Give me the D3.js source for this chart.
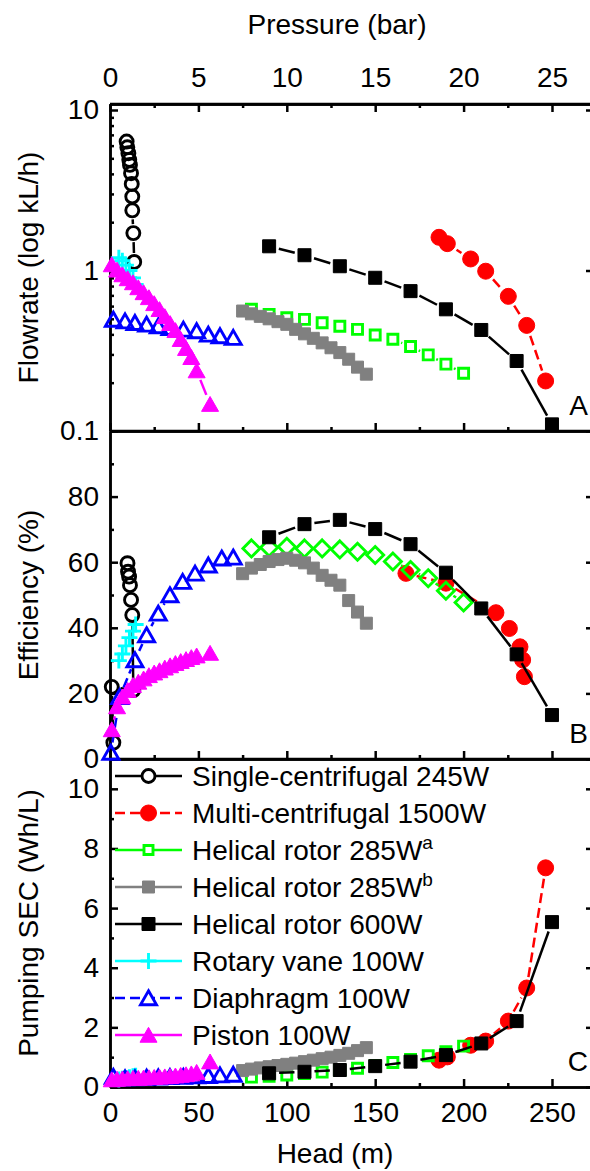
<!DOCTYPE html>
<html>
<head>
<meta charset="utf-8">
<script src="https://cdn.jsdelivr.net/npm/d3@7"></script>
<style>
  body { margin: 0; background: #fff; }
  text { font-family: "Liberation Sans", Arial, sans-serif; fill: #000; }
  .tick text { font-size: 28px; }
  .domain, .tick line { stroke: #000; stroke-width: 2.5; }
</style>
</head>
<body>
<div id="container"></div>
<script>
// ---- data ----
// Single-centrifugal 245W
const singleHead = [9.4, 9.8, 10.4, 10.9, 11.3, 11.9, 12.3, 12.6, 12.6, 13.2, 13.7];
const singleFlow = [6.36, 5.86, 5.38, 4.89, 4.55, 4.04, 3.46, 2.89, 2.37, 1.71, 1.13];
const singleEffHead = [9.9, 10.2, 10.8, 11.3, 11.9, 12.6, 13.2, 1.0, 1.9];
const singleEff = [59.7, 57.1, 55.6, 53.0, 48.5, 43.9, 21.0, 22.0, 5.0];

// Multi-centrifugal 1500W
const multiHead = [186.1, 190.8, 204.0, 212.5, 225.3, 235.7, 246.4];
const multiFlow = [1.61, 1.47, 1.18, 0.99, 0.69, 0.455, 0.205];
const multiSec = [0.90, 1.01, 1.40, 1.54, 2.21, 3.32, 7.35];
const multiEffHead = [167.4, 190.0, 218.3, 225.9, 231.9, 233.4, 234.4];
const multiEff = [56.6, 53.6, 44.6, 39.8, 34.2, 30.2, 25.1];

// Helical rotor 285W (a)
const helAHead = [80, 90, 100, 110, 120, 130, 140, 150, 160, 170, 180, 190, 200];
const helAFlow = [0.573, 0.533, 0.508, 0.496, 0.473, 0.449, 0.430, 0.396, 0.373, 0.336, 0.298, 0.261, 0.229];
const helAEff = [64.2, 64.5, 64.7, 64.2, 64.2, 63.9, 63.2, 62.2, 60.2, 57.6, 55.1, 51.3, 47.7];
const helASec = [0.33, 0.36, 0.40, 0.45, 0.50, 0.56, 0.63, 0.72, 0.82, 0.92, 1.05, 1.18, 1.37];

// Helical rotor 285W (b)
const helBHead = [75, 80, 85, 90, 95, 100, 105, 110, 115, 120, 125, 130, 135, 140, 145];
const helBFlow = [0.559, 0.537, 0.518, 0.500, 0.480, 0.462, 0.430, 0.403, 0.378, 0.354, 0.330, 0.308, 0.280, 0.250, 0.226];
const helBEff = [56.5, 58.2, 59.3, 60.2, 60.8, 61.2, 60.6, 59.8, 58.2, 56.0, 54.5, 53.0, 48.3, 44.8, 41.4];
const helBSec = [0.55, 0.60, 0.64, 0.68, 0.72, 0.76, 0.80, 0.85, 0.90, 0.95, 1.00, 1.06, 1.13, 1.22, 1.32];

// Helical rotor 600W
const hel6Head = [90, 110, 130, 150, 170, 190, 210, 230, 250];
const hel6Flow = [1.415, 1.245, 1.063, 0.901, 0.744, 0.573, 0.426, 0.273, 0.110];
const hel6Eff = [67.6, 71.6, 72.9, 70.1, 65.5, 56.8, 45.9, 31.9, 13.4];
const hel6Sec = [0.46, 0.51, 0.57, 0.70, 0.85, 1.07, 1.46, 2.21, 5.53];

// Rotary vane 100W
const rotHead = [5, 7, 9, 11, 13, 14.5];
const rotFlow = [1.20, 1.15, 1.08, 1.00, 0.90, 0.82];
const rotEff = [30, 32, 34.5, 37, 39, 41];
const rotSec = [0.25, 0.28, 0.30, 0.33, 0.36, 0.38];

// Diaphragm 100W
const diaHead = [1.9, 8.5, 14.1, 20.7, 27.3, 33.9, 41.5, 49.0, 55.6, 62.2, 69.7];
const diaFlow = [0.496, 0.484, 0.473, 0.462, 0.451, 0.440, 0.430, 0.420, 0.400, 0.391, 0.382];
const diaEffHead = [0.5, 5.5, 14.1, 20.7, 27.3, 33.9, 41.1, 48.1, 55.6, 63.2, 69.7];
const diaEff = [2, 19, 30.2, 37.8, 44.4, 50.0, 54.1, 56.6, 59.1, 61.2, 61.5];
const diaSec = [0.35, 0.30, 0.30, 0.32, 0.33, 0.34, 0.35, 0.37, 0.38, 0.40, 0.42];

// Piston 100W
const pisHead = [1, 4, 7, 10, 13, 16, 19, 22, 25, 28, 31, 34, 37, 40, 43, 46, 49, 56.6];
const pisFlow = [1.09, 1.01, 0.944, 0.892, 0.842, 0.784, 0.730, 0.680, 0.624, 0.573, 0.518, 0.469, 0.424, 0.373, 0.328, 0.288, 0.238, 0.147];
const pisEff = [9, 16, 19, 21, 22.5, 23.5, 24.5, 25.5, 26.3, 27, 27.8, 28.5, 29.2, 29.8, 30.4, 31, 31.5, 32.3];
const pisSec = [0.25, 0.27, 0.28, 0.29, 0.30, 0.30, 0.31, 0.32, 0.33, 0.34, 0.35, 0.36, 0.38, 0.40, 0.42, 0.45, 0.50, 0.85];

// axis ticks
const headTicks = [0, 50, 100, 150, 200, 250];
const headMinor = [25, 75, 125, 175, 225];
const barTicks = [0, 5, 10, 15, 20, 25];
const barMinor = [2.5, 7.5, 12.5, 17.5, 22.5];
const flowTicks = [0.1, 1, 10];
const flowMinor = [0.2, 0.3, 0.4, 0.5, 0.6, 0.7, 0.8, 0.9, 2, 3, 4, 5, 6, 7, 8, 9];
const effTicks = [0, 20, 40, 60, 80];
const effMinor = [10, 30, 50, 70, 90];
const secTicks = [0, 2, 4, 6, 8, 10];
const secMinor = [1, 3, 5, 7, 9];

// ---- layout ----
const L = 110, R = 593;
const svg = d3.select('#container').append('svg')
  .attr('width', 590).attr('height', 1171);

const x = d3.scaleLinear().domain([0, 273.2]).range([L, R]);
const xBar = d3.scaleLinear().domain([0, 27.32]).range([L, R]);
const yA = d3.scaleLog().domain([0.1, 10.9]).range([431, 104]);
const yB = d3.scaleLinear().domain([0, 100]).range([759, 431]);
const yC = d3.scaleLinear().domain([0, 11]).range([1087, 759]);

function clean(sel) {
  sel.attr('font-size', null).attr('font-family', null);
}

function panel(y, major, minor, fmt, title, letter, showBottom) {
  const [bot, top] = y.range();
  const g = svg.append('g');

  g.append('g').attr('transform', `translate(${L},0)`)
    .call(d3.axisLeft(y).tickValues(major).tickFormat(fmt).tickSizeInner(-8).tickSizeOuter(0).tickPadding(11))
    .call(clean);
  g.append('g').attr('transform', `translate(${L},0)`)
    .call(d3.axisLeft(y).tickValues(minor).tickFormat('').tickSizeInner(-4).tickSizeOuter(0))
    .call(clean);
  g.append('g').attr('transform', `translate(${R},0)`)
    .call(d3.axisRight(y).tickValues(major).tickFormat('').tickSizeInner(-7).tickSizeOuter(0))
    .call(clean);

  g.append('g').attr('transform', `translate(0,${bot})`)
    .call(d3.axisBottom(x).tickValues(headTicks).tickFormat(showBottom ? d3.format('d') : '')
      .tickSizeInner(-8).tickSizeOuter(0).tickPadding(15))
    .call(clean);
  g.append('g').attr('transform', `translate(0,${bot})`)
    .call(d3.axisBottom(x).tickValues(headMinor).tickFormat('').tickSizeInner(-4).tickSizeOuter(0))
    .call(clean);

  g.append('line').attr('x1', L).attr('x2', R).attr('y1', top).attr('y2', top)
    .attr('stroke', '#000').attr('stroke-width', 2.5);

  g.append('text')
    .attr('transform', `translate(38,${(top + bot) / 2}) rotate(-90)`)
    .attr('text-anchor', 'middle').attr('font-size', 28).text(title);

  g.append('text').attr('x', 588).attr('y', bot - 16)
    .attr('text-anchor', 'end').attr('font-size', 28).text(letter);
}

panel(yA, flowTicks, flowMinor, d3.format('~g'), 'Flowrate (log kL/h)', 'A', false);
panel(yB, effTicks, effMinor, d3.format('d'), 'Efficiency (%)', 'B', false);
panel(yC, secTicks, secMinor, d3.format('d'), 'Pumping SEC (Wh/L)', 'C', true);

// pressure axis on top of panel A
svg.append('g').attr('transform', `translate(0,${yA.range()[1]})`)
  .call(d3.axisTop(xBar).tickValues(barTicks).tickFormat(d3.format('d')).tickSizeInner(-8).tickSizeOuter(0).tickPadding(17))
  .call(clean);
svg.append('g').attr('transform', `translate(0,${yA.range()[1]})`)
  .call(d3.axisTop(xBar).tickValues(barMinor).tickFormat('').tickSizeInner(-4).tickSizeOuter(0))
  .call(clean);

svg.append('text').attr('x', 337).attr('y', 34).attr('text-anchor', 'middle')
  .attr('font-size', 28).text('Pressure (bar)');
svg.append('text').attr('x', 335).attr('y', 1163).attr('text-anchor', 'middle')
  .attr('font-size', 28).text('Head (m)');

// ---- markers ----
function markerPath(shape, s) {
  switch (shape) {
    case 'circle': return `M${-s},0a${s},${s} 0 1,0 ${2 * s},0a${s},${s} 0 1,0 ${-2 * s},0Z`;
    case 'square': return `M${-s},${-s}h${2 * s}v${2 * s}h${-2 * s}Z`;
    case 'diamond': return `M0,${-s}L${s},0L0,${s}L${-s},0Z`;
    case 'triangle': return `M0,${-s * 0.9}L${s},${s * 0.85}L${-s},${s * 0.85}Z`;
    case 'plus': return `M${-s},0H${s}M0,${-s}V${s}`;
  }
}

const styles = {
  single: { color: '#000', shape: 'circle', size: 6.5, filled: false, dash: null, gap: 9 },
  multi: { color: '#ff0000', shape: 'circle', size: 8, filled: true, dash: '10,5', gap: 11 },
  helA: { color: '#00ff00', shape: 'square', size: 5, filled: false, dash: null, gap: 9 },
  helB: { color: '#808080', shape: 'square', size: 6, filled: true, dash: null, gap: 9 },
  hel6: { color: '#000', shape: 'square', size: 6.5, filled: true, dash: null, gap: 10 },
  rot: { color: '#00ffff', shape: 'plus', size: 8, filled: false, dash: null, gap: 9 },
  dia: { color: '#0000ff', shape: 'triangle', size: 8, filled: false, dash: '10,5', gap: 10 },
  pis: { color: '#ff00ff', shape: 'triangle', size: 8.5, filled: true, dash: null, gap: 10 }
};

function series(y, xs, ys, st, shape) {
  const g = svg.append('g');
  const pts = xs.map((h, i) => [x(h), y(ys[i])]);
  for (let i = 0; i < pts.length - 1; i++) {
    const [x1, y1] = pts[i], [x2, y2] = pts[i + 1];
    const d = Math.hypot(x2 - x1, y2 - y1);
    if (d <= 2 * st.gap + 1) continue;
    const ux = (x2 - x1) / d, uy = (y2 - y1) / d;
    g.append('line')
      .attr('x1', x1 + ux * st.gap).attr('y1', y1 + uy * st.gap)
      .attr('x2', x2 - ux * st.gap).attr('y2', y2 - uy * st.gap)
      .attr('stroke', st.color).attr('stroke-width', 2.5)
      .attr('stroke-dasharray', st.dash);
  }
  g.selectAll('path').data(pts).join('path')
    .attr('transform', d => `translate(${d[0]},${d[1]})`)
    .attr('d', markerPath(shape || st.shape, shape === 'diamond' ? 8.5 : st.size))
    .attr('fill', st.filled ? st.color : 'none')
    .attr('stroke', st.color)
    .attr('stroke-width', st.filled ? 1 : 2.9);
}

// panel A
series(yA, singleHead, singleFlow, styles.single);
series(yA, multiHead, multiFlow, styles.multi);
series(yA, helAHead, helAFlow, styles.helA);
series(yA, helBHead, helBFlow, styles.helB);
series(yA, hel6Head, hel6Flow, styles.hel6);
series(yA, rotHead, rotFlow, styles.rot);
series(yA, diaHead, diaFlow, styles.dia);
series(yA, pisHead, pisFlow, styles.pis);

// panel B
series(yB, singleEffHead, singleEff, styles.single);
series(yB, multiEffHead, multiEff, styles.multi);
series(yB, helAHead, helAEff, styles.helA, 'diamond');
series(yB, helBHead, helBEff, styles.helB);
series(yB, hel6Head, hel6Eff, styles.hel6);
series(yB, rotHead, rotEff, styles.rot);
series(yB, diaEffHead, diaEff, styles.dia);
series(yB, pisHead, pisEff, styles.pis);

// panel C
series(yC, multiHead, multiSec, styles.multi);
series(yC, helAHead, helASec, styles.helA);
series(yC, helBHead, helBSec, styles.helB);
series(yC, hel6Head, hel6Sec, styles.hel6);
series(yC, rotHead, rotSec, styles.rot);
series(yC, diaHead, diaSec, styles.dia);
series(yC, pisHead, pisSec, styles.pis);

// ---- legend ----
const legendItems = [
  { key: 'single', label: 'Single-centrifugal 245W' },
  { key: 'multi', label: 'Multi-centrifugal 1500W' },
  { key: 'helA', label: 'Helical rotor 285W', sup: 'a' },
  { key: 'helB', label: 'Helical rotor 285W', sup: 'b' },
  { key: 'hel6', label: 'Helical rotor 600W' },
  { key: 'rot', label: 'Rotary vane 100W' },
  { key: 'dia', label: 'Diaphragm 100W' },
  { key: 'pis', label: 'Piston 100W' }
];

const leg = svg.append('g').attr('transform', 'translate(115,776)');
legendItems.forEach((d, i) => {
  const st = styles[d.key];
  const row = leg.append('g').attr('transform', `translate(0,${i * 37})`);
  row.append('line').attr('x1', 0).attr('x2', 67)
    .attr('stroke', st.color).attr('stroke-width', 2.5).attr('stroke-dasharray', st.dash);
  row.append('path').attr('transform', 'translate(33.5,0)')
    .attr('d', markerPath(st.shape, d.key === 'helA' ? 4.5 : st.size))
    .attr('fill', st.filled ? st.color : '#fff')
    .attr('stroke', st.color).attr('stroke-width', st.filled ? 1 : 2.9);
  const t = row.append('text').attr('x', 77).attr('y', 10).attr('font-size', 28).text(d.label);
  if (d.sup) t.append('tspan').attr('dy', -11).attr('font-size', 19).text(d.sup);
});
</script>
</body>
</html>
